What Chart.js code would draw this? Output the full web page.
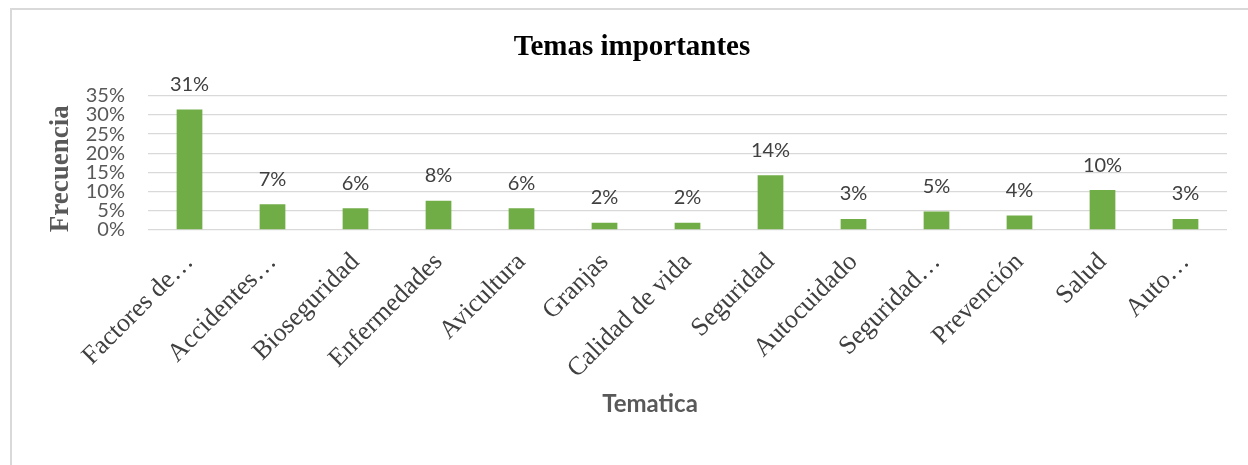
<!DOCTYPE html>
<html>
<head>
<meta charset="utf-8">
<script src="https://cdn.jsdelivr.net/npm/chart.js@4.4.1/dist/chart.umd.min.js"></script>
<style>
  html, body { margin: 0; padding: 0; background: #fff; }
  #wrap { position: relative; width: 1248px; height: 465px; overflow: hidden; }
  #frame { position: absolute; left: 10px; top: 8px; width: 1300px; height: 500px;
           border-top: 2px solid #d9d9d9; border-left: 2px solid #d9d9d9; }
  #chart { position: absolute; left: 0; top: 0; }
</style>
</head>
<body>
<div id="wrap">
  <div id="frame"></div>
  <canvas id="chart" width="1248" height="465"></canvas>
</div>
<script>
// Temas importantes - frecuencia por tematica
// ===========================================

var categories = [
    'Factores de…', 'Accidentes…', 'Bioseguridad', 'Enfermedades', 'Avicultura',
    'Granjas', 'Calidad de vida', 'Seguridad', 'Autocuidado', 'Seguridad…',
    'Prevención', 'Salud', 'Auto…'
];
var frecuencia = [31.4, 6.7, 5.7, 7.6, 5.7, 1.9, 1.9, 14.3, 2.9, 4.8, 3.8, 10.4, 2.9];
var yTickValues = [0, 5, 10, 15, 20, 25, 30, 35];

var chartTitle = 'Temas importantes';
var yTitle = 'Frecuencia';
var xTitle = 'Tematica';

Chart.defaults.font.family = 'Lato';

// value labels above the bars + axis titles
var labelsPlugin = {
    id: 'labels',
    afterDatasetsDraw: function (chart) {
        var ctx = chart.ctx;
        var meta = chart.getDatasetMeta(0);
        ctx.save();
        ctx.font = '20px Lato';
        ctx.fillStyle = '#404040';
        ctx.textAlign = 'center';
        ctx.textBaseline = 'middle';
        meta.data.forEach(function (bar, i) {
            ctx.fillText(Math.round(frecuencia[i]) + '%', bar.x, bar.y - 25);
        });
        ctx.restore();
    },
    afterDraw: function (chart) {
        var ctx = chart.ctx;
        var area = chart.chartArea;
        ctx.save();
        ctx.textAlign = 'center';
        ctx.textBaseline = 'middle';

        ctx.font = 'bold 24px Lato';
        ctx.fillStyle = '#595959';
        ctx.fillText(xTitle, area.left + 502, 404);

        ctx.translate(61, area.top + 73);
        ctx.rotate(-Math.PI / 2);
        ctx.font = 'bold 27px "Liberation Serif"';
        ctx.fillStyle = '#595959';
        ctx.fillText(yTitle, 0, 0);
        ctx.restore();
    }
};

new Chart(document.getElementById('chart'), {
    type: 'bar',
    data: {
        labels: categories,
        datasets: [{
            data: frecuencia,
            backgroundColor: '#70AD47',
            categoryPercentage: 1,
            barPercentage: 0.31
        }]
    },
    options: {
        responsive: false,
        animation: false,
        devicePixelRatio: 1,
        layout: { padding: { left: 37, right: 21, top: 0, bottom: 0 } },
        plugins: {
            legend: { display: false },
            tooltip: { enabled: false },
            title: {
                display: true,
                text: chartTitle,
                color: '#000',
                font: { family: '"Liberation Serif"', size: 29, weight: 'bold' },
                padding: { top: 30, bottom: 31 }
            }
        },
        scales: {
            x: {
                grid: { display: false },
                border: { display: false },
                ticks: {
                    autoSkip: false,
                    maxRotation: 45,
                    minRotation: 45,
                    padding: 9,
                    labelOffset: 0,
                    color: '#404040',
                    font: { family: '"Liberation Serif"', size: 26 }
                },
                afterFit: function (scale) { scale.height = 235; }
            },
            y: {
                min: 0,
                max: 35,
                grid: { color: '#d9d9d9', lineWidth: 1.3, drawTicks: false },
                border: { display: false },
                ticks: {
                    autoSkip: false,
                    padding: 23,
                    color: '#595959',
                    font: { size: 20, lineHeight: 1 },
                    callback: function (v) { return v + '%'; }
                },
                afterBuildTicks: function (scale) {
                    scale.ticks = yTickValues.map(function (v) { return { value: v }; });
                },
                afterFit: function (scale) { scale.width = 111; }
            }
        }
    },
    plugins: [labelsPlugin]
});
</script>
</body>
</html>
